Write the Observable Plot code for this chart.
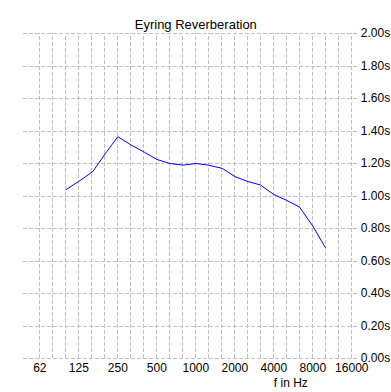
<!DOCTYPE html>
<html>
<head>
<meta charset="utf-8">
<script src="https://cdn.jsdelivr.net/npm/d3@7"></script>
<script src="https://cdn.jsdelivr.net/npm/@observablehq/plot@0.6"></script>
<style>
  html, body { margin: 0; padding: 0; background: #ffffff; }
  #chart svg { display: block; }
</style>
</head>
<body>
<div id="chart"></div>
<script>
// Third-octave band centre frequencies (Hz) of the measured curve
const bandHz = [100, 125, 160, 200, 250, 315, 400, 500, 630, 800, 1000, 1250, 1600, 2000, 2500, 3150, 4000, 5000, 6300, 8000, 10000];
// Eyring reverberation time (s)
const rt60 = [1.04, 1.09, 1.15, 1.26, 1.365, 1.315, 1.27, 1.225, 1.20, 1.19, 1.20, 1.19, 1.17, 1.12, 1.09, 1.068, 1.009, 0.974, 0.933, 0.815, 0.683];

// Octave tick positions and their labels
const octaveHz = [62.5, 125, 250, 500, 1000, 2000, 4000, 8000, 16000];
const octaveLabels = ["62", "125", "250", "500", "1000", "2000", "4000", "8000", "16000"];
// Third-octave grid lines
const gridHz = [62.5, 78.7, 99.2, 125, 157.5, 198.4, 250, 315, 396.9, 500, 630, 793.7, 1000, 1260, 1587, 2000, 2520, 3175, 4000, 5040, 6350, 8000, 10079, 12699, 16000];
// Y ticks (seconds)
const yTicks = [0, 0.2, 0.4, 0.6, 0.8, 1.0, 1.2, 1.4, 1.6, 1.8, 2.0];

const data = bandHz.map((f, i) => ({f, t: rt60[i]}));

const gridColor = "#c0c0c0";
const dash = "4,2";

const chart = Plot.plot({
  width: 391,
  height: 392,
  marginTop: 33,
  marginBottom: 34,
  marginLeft: 39.3,
  marginRight: 39.7,
  x: {type: "log", domain: [62.5, 16000], axis: null},
  y: {domain: [0, 2], axis: null},
  style: {
    fontFamily: "'Liberation Sans', Arial, sans-serif",
    fontSize: "12px",
    background: "#ffffff",
    color: "#000000"
  },
  marks: [
    Plot.ruleY(yTicks, {y: d => d, x1: 46.8, x2: 18000, stroke: gridColor, strokeDasharray: dash, strokeWidth: 1, shapeRendering: "crispEdges"}),
    Plot.ruleX(gridHz, {x: d => d, y1: 0, y2: 2, stroke: gridColor, strokeDasharray: dash, strokeWidth: 1, shapeRendering: "crispEdges"}),
    Plot.line(data, {x: "f", y: "t", stroke: "#0000ff", strokeWidth: 1}),
    Plot.text(octaveHz, {x: d => d, y: 0, text: (d, i) => octaveLabels[i], dy: 9.5, fill: "#000", fontSize: 12, lineAnchor: "middle"}),
    Plot.text(yTicks, {y: d => d, frameAnchor: "right", dx: 9, text: d => d.toFixed(2) + "s", textAnchor: "start", fill: "#000", fontSize: 12, lineAnchor: "middle"}),
    Plot.text(["Eyring Reverberation"], {frameAnchor: "top", dy: -9, text: d => d, fill: "#000", fontSize: 13, lineAnchor: "middle"}),
    Plot.text(["f in Hz"], {frameAnchor: "bottom", dx: 95, dy: 25, text: d => d, fill: "#000", fontSize: 12, lineAnchor: "middle"})
  ]
});
document.getElementById("chart").appendChild(chart);
</script>
</body>
</html>
